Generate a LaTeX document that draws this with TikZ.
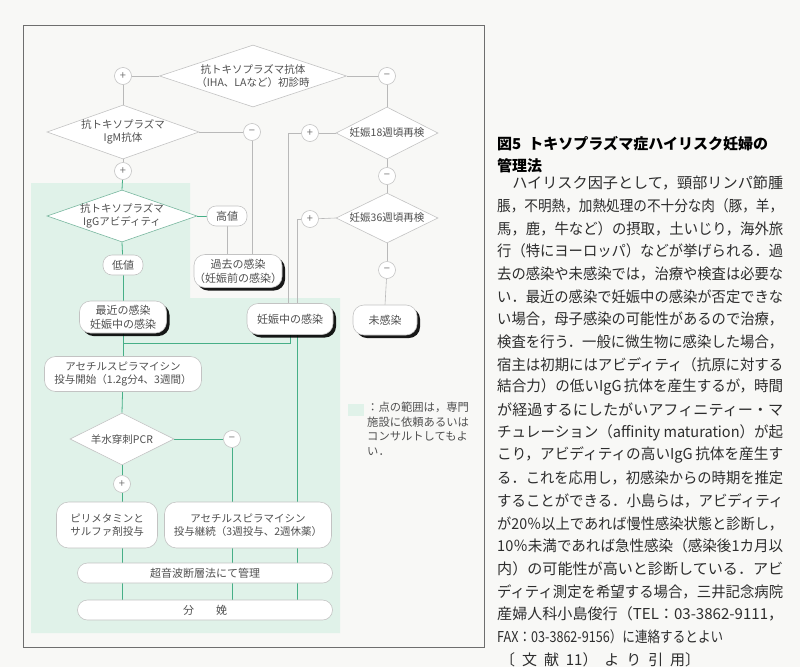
\documentclass[tikz,border=0pt]{standalone}
\usepackage{fontspec}
\usepackage{graphicx}
\setmainfont{Noto Sans CJK JP}
\usetikzlibrary{shapes.geometric,shadows,calc}
\definecolor{gline}{RGB}{185,185,185}
\definecolor{grn}{RGB}{70,175,135}
\definecolor{mint}{RGB}{224,242,233}
\definecolor{txt}{RGB}{80,80,80}
\definecolor{bord}{RGB}{195,195,195}
\definecolor{paper}{RGB}{248,248,246}
\definecolor{bodyc}{RGB}{45,45,45}
\definecolor{framec}{RGB}{110,110,110}
\pgfdeclarelayer{bg}\pgfdeclarelayer{lines}\pgfsetlayers{bg,lines,main}
\newcommand\dfont{\fontsize{10.5}{13}\selectfont}
\newcommand\pfont{\fontsize{11}{14}\selectfont}
\tikzset{
 dia/.style={draw=bord, fill=white, diamond, inner sep=0pt, line width=0.6pt},
 pm/.style={circle, draw=bord, fill=white, minimum size=17pt, inner sep=0pt, font=\fontsize{11}{11}\selectfont, text=txt!80, line width=0.6pt},
 rbox/.style={draw=bord, fill=white, rounded corners=9pt, inner sep=0pt, align=center, text=txt, font=\pfont, line width=0.6pt},
 sbox/.style={rbox, rounded corners=11pt, drop shadow={shadow xshift=3pt, shadow yshift=-3pt, fill=black, opacity=0.9}},
 gl/.style={draw=gline, line width=0.6pt},
 gr/.style={draw=grn, line width=0.8pt},
 dlabel/.style={text=txt, font=\dfont, align=center, inner sep=0pt},
 body/.style={anchor=west, inner sep=0pt, text=bodyc, font=\fontsize{15}{15}\selectfont},
 frame/.style={draw=framec, line width=0.8pt}
}
\newcommand\bl[3]{\node[body] (#1) at (497,#2) {\resizebox{286pt}{\height}{#3}};}
\begin{document}
\begin{tikzpicture}[x=1pt,y=-1pt]
\useasboundingbox (0,0) rectangle (800,667);
\begin{pgfonlayer}{bg}
\fill[paper] (0,0) rectangle (800,667);
\fill[mint] (31,183) -- (190,183) -- (190,298) -- (340,298) -- (340,633) -- (31,633) -- cycle;
\draw[frame] (23,25) rectangle (484,647);
\end{pgfonlayer}

% diamonds
\node[dia, minimum width=187pt, minimum height=62pt, label={[dlabel]center:{抗トキソプラズマ抗体\\（IHA、LAなど）初診時}}] (d1) at (253,76) {};
\node[dia, minimum width=152pt, minimum height=54pt, label={[dlabel]center:{抗トキソプラズマ\\IgM抗体}}] (d2) at (123,132) {};
\node[dia, draw=grn!60!bord, minimum width=150pt, minimum height=52pt, label={[dlabel]center:{抗トキソプラズマ\\IgGアビディティ}}] (d3) at (122,216) {};
\node[dia, minimum width=102pt, minimum height=52pt, label={[dlabel]center:{妊娠18週頃再検}}] (d4) at (387,133) {};
\node[dia, minimum width=102pt, minimum height=50pt, label={[dlabel]center:{妊娠36週頃再検}}] (d5) at (387,218) {};
\node[dia, minimum width=104pt, minimum height=52pt, label={[dlabel]center:{羊水穿刺PCR}}] (d6) at (122,439) {};

% plus / minus
\node[pm] (p1) at (123,76) {+};
\node[pm] (m1) at (387,76) {−};
\node[pm] (m2) at (252,132) {−};
\node[pm] (p2) at (123,171) {+};
\node[pm] (p3) at (310,133) {+};
\node[pm] (m3) at (387,176) {−};
\node[pm] (p4) at (310,219) {+};
\node[pm] (m4) at (387,270) {−};
\node[pm] (m5) at (232,439) {−};
\node[pm] (p5) at (122,484) {+};

% boxes
\node[rbox, minimum width=40pt, minimum height=20pt] (hi) at (227,216) {高値};
\node[rbox, minimum width=40pt, minimum height=20pt] (lo) at (123,265) {低値};
\node[sbox, minimum width=84pt, minimum height=33pt] (past) at (238,271) {過去の感染\\（妊娠前の感染）};
\node[sbox, minimum width=87pt, minimum height=32pt] (recent) at (123,317) {最近の感染\\妊娠中の感染};
\node[sbox, minimum width=86pt, minimum height=31pt] (preg) at (290,319) {妊娠中の感染};
\node[sbox, minimum width=64pt, minimum height=30pt] (none) at (385,320) {未感染};
\node[rbox, font=\dfont, rounded corners=11pt, minimum width=157pt, minimum height=35pt] (acet1) at (123,374) {アセチルスピラマイシン\\投与開始（1.2g分4、3週間）};
\node[rbox, font=\dfont, rounded corners=12pt, minimum width=101pt, minimum height=46pt] (pyri) at (107,525) {ピリメタミンと\\サルファ剤投与};
\node[rbox, font=\dfont, rounded corners=12pt, minimum width=167pt, minimum height=46pt] (acet2) at (248,525) {アセチルスピラマイシン\\投与継続（3週投与、2週休薬）};
\node[rbox, rounded corners=10pt, minimum width=255pt, minimum height=20pt] (us) at (205,573) {超音波断層法にて管理};
\node[rbox, rounded corners=10pt, minimum width=255pt, minimum height=20pt] (birth) at (205,610) {分　　娩};

\coordinate (j1) at (123,343);

% connectors
\begin{pgfonlayer}{lines}
\draw[gl] (d1.west) -- (p1);
\draw[gl] (p1) -- (d2.north);
\draw[gl] (d1.east) -- (m1);
\draw[gl] (m1) -- (d4.north);
\draw[gl] (d2.east) -- (m2);
\draw[gl] (m2) -- (m2 |- past.north);
\draw[gl] (d2.south) -- (p2);
\draw[gr] (p2) -- (d3.north);
\draw[gr] (d3.east) -- (hi);
\draw[gl] (hi) -- (hi |- past.north);
\draw[gr] (d3.south) -- (lo);
\draw[gr] (lo) -- (recent);
\draw[gl] (d4.west) -- (p3);
\draw[gl] (p3) -| ([xshift=-2pt]preg.north);
\draw[gl] (d5.west) -- (p4);
\draw[gl] (p4) -| ([xshift=7pt]preg.north);
\draw[gl] (d4.south) -- (m3);
\draw[gl] (m3) -- (d5.north);
\draw[gl] (d5.south) -- (m4);
\draw[gl] (m4) -- (none.north);
\draw[gr] (recent) -- (acet1);
\draw[gr] (preg.south) |- (j1);
\draw[gr] ([xshift=7pt]preg.south) -- ([xshift=7pt]preg.south |- birth.north);
\draw[gr] (acet1) -- (d6.north);
\draw[gr] (d6.east) -- (m5);
\draw[gr] (m5) -- (m5 |- birth.north);
\draw[gr] (d6.south) -- (p5);
\draw[gr] (p5) -- (p5 |- birth.north);
\end{pgfonlayer}

% legend
\node[fill=mint, minimum width=16pt, minimum height=12pt, inner sep=0pt] (leg) at (356,410) {};
\node[anchor=north west, align=left, inner sep=0pt, text=txt, font=\fontsize{11.3}{14.6}\selectfont] (legtext) at (367,402) {：点の範囲は，専門\\施設に依頼あるいは\\コンサルトしてもよ\\い．};

% title
\node[anchor=west, inner sep=0pt, text=black, font=\fontsize{15}{15}\selectfont\bfseries] (title1) at (497,144) {\resizebox{271pt}{\height}{図5\hspace{7pt}トキソプラズマ症ハイリスク妊婦の}};
\node[anchor=west, inner sep=0pt, text=black, font=\fontsize{15}{15}\selectfont\bfseries] (title2) at (497,166) {管理法};

% body text
\bl{b1}{183}{\hspace*{15pt}ハイリスク因子として，頸部リンパ節腫}
\bl{b2}{205.7}{脹，不明熱，加熱処理の不十分な肉（豚，羊，}
\bl{b3}{228.4}{馬，鹿，牛など）の摂取，土いじり，海外旅}
\bl{b4}{251.1}{行（特にヨーロッパ）などが挙げられる．過}
\bl{b5}{273.8}{去の感染や未感染では，治療や検査は必要な}
\bl{b6}{296.5}{い．最近の感染で妊娠中の感染が否定できな}
\bl{b7}{319.2}{い場合，母子感染の可能性があるので治療，}
\bl{b8}{341.9}{検査を行う．一般に微生物に感染した場合，}
\bl{b9}{364.6}{宿主は初期にはアビディティ（抗原に対する}
\bl{b10}{387.3}{結合力）の低いIgG\,抗体を産生するが，時間}
\bl{b11}{410}{が経過するにしたがいアフィニティー・マ}
\bl{b12}{432.7}{チュレーション（affinity maturation）が起}
\bl{b13}{455.4}{こり，アビディティの高いIgG\,抗体を産生す}
\bl{b14}{478.1}{る．これを応用し，初感染からの時期を推定}
\bl{b15}{500.8}{することができる．小島らは，アビディティ}
\bl{b16}{523.5}{が20％以上であれば慢性感染状態と診断し，}
\bl{b17}{546.2}{10％未満であれば急性感染（感染後1カ月以}
\bl{b18}{568.9}{内）の可能性が高いと診断している．アビ}
\bl{b19}{591.6}{ディティ測定を希望する場合，三井記念病院}
\bl{b20}{614.3}{産婦人科小島俊行（TEL：03-3862-9111，}
\node[body] (b21) at (497,637) {\resizebox{226pt}{\height}{FAX：03-3862-9156）に連絡するとよい}};
\node[body] (b22) at (500,659.7) {\hbox to 200pt{〔\hfill 文\hfill 献\hfill 11）\hfill よ\hfill り\hfill 引\hfill 用〕}};
\end{tikzpicture}
\end{document}
